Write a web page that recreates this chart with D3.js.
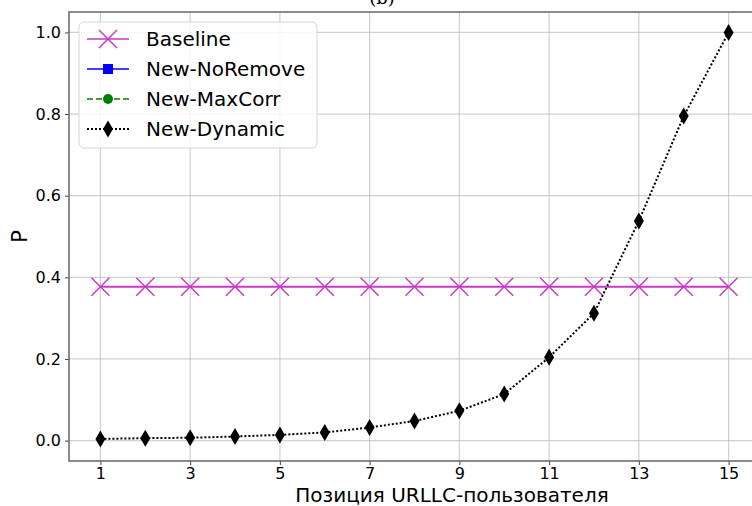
<!DOCTYPE html>
<html>
<head>
<meta charset="utf-8">
<script src="https://cdn.jsdelivr.net/npm/d3@7"></script>
<style>
  body { margin: 0; background: #fff; }
  svg { display: block; font-family: "DejaVu Sans", sans-serif; }
</style>
</head>
<body>
<div id="chart"></div>
<script>
// data
var positions = [1, 2, 3, 4, 5, 6, 7, 8, 9, 10, 11, 12, 13, 14, 15];
var baseline = [0.377, 0.377, 0.377, 0.377, 0.377, 0.377, 0.377, 0.377, 0.377, 0.377, 0.377, 0.377, 0.377, 0.377, 0.377];
var newNoRemove = [];   // not visible in the picture
var newMaxCorr = [];    // not visible in the picture
var newDynamic = [0.004, 0.006, 0.007, 0.010, 0.014, 0.020, 0.032, 0.048, 0.073, 0.114, 0.204, 0.312, 0.538, 0.795, 1.0];
var xTicks = [1, 3, 5, 7, 9, 11, 13, 15];
var yTicks = [0.0, 0.2, 0.4, 0.6, 0.8, 1.0];

var W = 752, H = 506;
var margin = {top: 12, right: -8, bottom: 45, left: 69};

var svg = d3.select("#chart").append("svg")
    .attr("width", W)
    .attr("height", H);

var x = d3.scaleLinear()
    .domain([0.3, 15.7])
    .range([margin.left, W - margin.right]);
var y = d3.scaleLinear()
    .domain([-0.05, 1.05])
    .range([H - margin.bottom, margin.top]);

// title, cut off at the top like in the picture
svg.append("text")
    .attr("x", 382)
    .attr("y", 4)
    .attr("text-anchor", "middle")
    .style("font-family", "'DejaVu Serif', serif")
    .style("font-size", "18px")
    .text("(b)");

// grid
svg.append("g").selectAll("line")
    .data(xTicks).enter().append("line")
    .attr("x1", d => x(d)).attr("x2", d => x(d))
    .attr("y1", y.range()[0]).attr("y2", y.range()[1])
    .attr("stroke", "#b0b0b0").attr("stroke-opacity", 0.6).attr("stroke-width", 1.2);
svg.append("g").selectAll("line")
    .data(yTicks).enter().append("line")
    .attr("x1", x.range()[0]).attr("x2", x.range()[1])
    .attr("y1", d => y(d)).attr("y2", d => y(d))
    .attr("stroke", "#b0b0b0").attr("stroke-opacity", 0.6).attr("stroke-width", 1.2);

// axes
var xAxis = svg.append("g")
    .attr("transform", "translate(0," + y.range()[0] + ")")
    .call(d3.axisBottom(x).tickValues(xTicks).tickSize(4).tickPadding(3).tickFormat(d3.format("d")));
var yAxis = svg.append("g")
    .attr("transform", "translate(" + x.range()[0] + ",0)")
    .call(d3.axisLeft(y).tickValues(yTicks).tickSize(4).tickPadding(4).tickFormat(d3.format(".1f")));
[xAxis, yAxis].forEach(function(g) {
    g.select(".domain").remove();
    g.selectAll("line").attr("stroke", "#444").attr("stroke-width", 1);
    g.selectAll("text").attr("fill", "#000").style("font-size", "16px").style("font-family", "'DejaVu Sans', sans-serif");
});

// frame
svg.append("rect")
    .attr("x", x.range()[0]).attr("y", y.range()[1])
    .attr("width", x.range()[1] - x.range()[0])
    .attr("height", y.range()[0] - y.range()[1])
    .attr("fill", "none").attr("stroke", "#666").attr("stroke-width", 1.5);

// axis labels
svg.append("text")
    .attr("x", 452).attr("y", 502)
    .attr("text-anchor", "middle")
    .style("font-size", "20px")
    .text("Позиция URLLC-пользователя");
svg.append("text")
    .attr("transform", "translate(27," + ((y.range()[0] + y.range()[1]) / 2) + ") rotate(-90)")
    .attr("text-anchor", "middle")
    .style("font-size", "21px")
    .text("P");

var line = d3.line()
    .x((d, i) => x(positions[i]))
    .y(d => y(d));

var magenta = "#c93ac9";

// markers
function xMark(g, cx, cy, r) {
    g.append("path")
        .attr("d", "M" + (cx - r) + "," + (cy - r) + "L" + (cx + r) + "," + (cy + r) +
                   "M" + (cx - r) + "," + (cy + r) + "L" + (cx + r) + "," + (cy - r))
        .attr("stroke", magenta).attr("stroke-width", 1.5).attr("fill", "none");
}
function diamond(g, cx, cy) {
    g.append("path")
        .attr("d", "M" + cx + "," + (cy - 8.5) + "L" + (cx + 5) + "," + cy + "L" + cx + "," + (cy + 8.5) + "L" + (cx - 5) + "," + cy + "Z")
        .attr("fill", "#000");
}
function square(g, cx, cy) {
    g.append("rect").attr("x", cx - 5).attr("y", cy - 5).attr("width", 10).attr("height", 10).attr("fill", "blue");
}
function circle(g, cx, cy) {
    g.append("circle").attr("cx", cx).attr("cy", cy).attr("r", 5).attr("fill", "green");
}

var plot = svg.append("g");

// Baseline
plot.append("path").datum(baseline)
    .attr("d", line).attr("fill", "none")
    .attr("stroke", magenta).attr("stroke-width", 2);
baseline.forEach(function(v, i) { xMark(plot, x(positions[i]), y(v), 9); });

// New-NoRemove
if (newNoRemove.length) {
    plot.append("path").datum(newNoRemove).attr("d", line).attr("fill", "none").attr("stroke", "blue").attr("stroke-width", 1.5);
    newNoRemove.forEach(function(v, i) { square(plot, x(positions[i]), y(v)); });
}
// New-MaxCorr
if (newMaxCorr.length) {
    plot.append("path").datum(newMaxCorr).attr("d", line).attr("fill", "none").attr("stroke", "green").attr("stroke-width", 1.5).attr("stroke-dasharray", "6,3");
    newMaxCorr.forEach(function(v, i) { circle(plot, x(positions[i]), y(v)); });
}

// New-Dynamic
plot.append("path").datum(newDynamic)
    .attr("d", line).attr("fill", "none")
    .attr("stroke", "#000").attr("stroke-width", 2).attr("stroke-dasharray", "2,2");
newDynamic.forEach(function(v, i) { diamond(plot, x(positions[i]), y(v)); });

// legend
var legend = svg.append("g");
legend.append("rect")
    .attr("x", 79).attr("y", 22).attr("width", 238).attr("height", 126)
    .attr("rx", 5)
    .attr("fill", "#fff").attr("fill-opacity", 0.85)
    .attr("stroke", "#d5d5d5").attr("stroke-width", 1);

var items = [
    {name: "Baseline", color: magenta, dash: null, mark: "x"},
    {name: "New-NoRemove", color: "blue", dash: null, mark: "s"},
    {name: "New-MaxCorr", color: "green", dash: "6,3", mark: "o"},
    {name: "New-Dynamic", color: "#000", dash: "2,2", mark: "d"}
];
items.forEach(function(it, i) {
    var yy = 39 + i * 30;
    legend.append("line")
        .attr("x1", 87).attr("x2", 129).attr("y1", yy).attr("y2", yy)
        .attr("stroke", it.color).attr("stroke-width", it.mark == "d" ? 2 : 1.5)
        .attr("stroke-dasharray", it.dash);
    if (it.mark == "x") xMark(legend, 108, yy, 9);
    if (it.mark == "s") square(legend, 108, yy);
    if (it.mark == "o") circle(legend, 108, yy);
    if (it.mark == "d") diamond(legend, 108, yy);
    legend.append("text")
        .attr("x", 146).attr("y", yy + 7)
        .style("font-size", "20px")
        .text(it.name);
});
</script>
</body>
</html>
